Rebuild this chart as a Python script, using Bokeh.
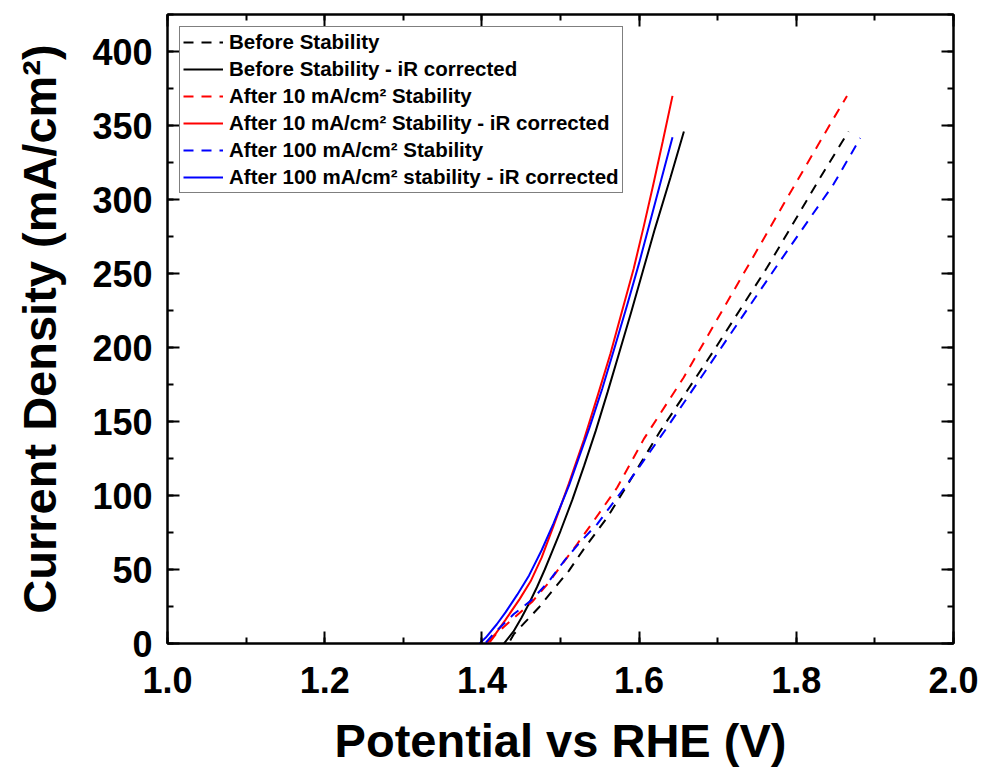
from bokeh.plotting import figure
from bokeh.models import (LinearAxis, Legend, LegendItem, Range1d, SingleIntervalTicker,
                          NumeralTickFormatter, CustomJSTickFormatter)
from bokeh.embed import file_html
from bokeh.resources import INLINE

# ---- data ----
before_v = [1.436, 1.4406, 1.4724, 1.4915, 1.5106, 1.5296, 1.5594, 1.5805, 1.6271, 1.6949, 1.7628, 1.8305, 1.8665]
before_j = [2, 6.3, 24.3, 36.8, 49.1, 63.8, 85.1, 103.2, 143.7, 197.8, 254, 314.9, 346]

before_ir_v = [1.428, 1.440, 1.450, 1.460, 1.470, 1.480, 1.490, 1.500, 1.515, 1.530, 1.545, 1.560, 1.575, 1.590, 1.605, 1.620, 1.640, 1.657]
before_ir_j = [0, 8, 17, 27, 38, 50, 63, 76, 97, 120, 144, 170, 197, 224, 252, 280, 315, 346]

after10_v = [1.410, 1.4186, 1.4406, 1.464, 1.4851, 1.5021, 1.5212, 1.5424, 1.5721, 1.6059, 1.6567, 1.7203, 1.7839, 1.8432, 1.8645]
after10_j = [1, 6.8, 17.2, 28.2, 41.2, 53.6, 67.2, 82.9, 105.4, 138.1, 179.7, 238.3, 296.9, 351, 370]

after10_ir_v = [1.407, 1.418, 1.430, 1.448, 1.462, 1.476, 1.4915, 1.5106, 1.530, 1.547, 1.5636, 1.578, 1.593, 1.606, 1.618, 1.630, 1.6425]
after10_ir_j = [0.5, 7, 16, 30, 42, 58, 80, 108, 138, 167, 196, 224, 253, 282, 310, 339, 370]

after100_v = [1.405, 1.4152, 1.4406, 1.4631, 1.4864, 1.5055, 1.5245, 1.5467, 1.5848, 1.6357, 1.7076, 1.7797, 1.8475, 1.8814]
after100_j = [0.5, 6.8, 19.9, 29.3, 42.8, 56.4, 68.2, 80.7, 107.7, 146, 202.3, 258.6, 310.4, 341.5]

after100_ir_v = [1.397, 1.405, 1.419, 1.430, 1.445, 1.460, 1.476, 1.491, 1.511, 1.537, 1.553, 1.570, 1.585, 1.600, 1.614, 1.628, 1.6425]
after100_ir_j = [0, 4, 13, 21, 33, 46, 63, 81, 107, 146, 172, 202, 229, 257, 285, 313, 342]

labels = [
    "Before Stability",
    "Before Stability - iR corrected",
    "After 10 mA/cm\u00b2 Stability",
    "After 10 mA/cm\u00b2 Stability - iR corrected",
    "After 100 mA/cm\u00b2 Stability",
    "After 100 mA/cm\u00b2 stability - iR corrected",
]

FONT = "Liberation Sans"

p = figure(width=986, height=771, x_range=Range1d(1.0, 2.0), y_range=Range1d(0, 425),
           output_backend="svg", toolbar_location=None,
           min_border_left=167, min_border_right=33, min_border_top=14, min_border_bottom=128,
           x_axis_label="Potential vs RHE (V)", y_axis_label="Current Density (mA/cm\u00b2)")

p.xgrid.visible = False
p.ygrid.visible = False
p.outline_line_color = "black"
p.outline_line_width = 2
p.background_fill_color = "white"
p.border_fill_color = "white"

series = [
    (before_v, before_j, "black", "dashed"),
    (before_ir_v, before_ir_j, "black", "solid"),
    (after10_v, after10_j, "red", "dashed"),
    (after10_ir_v, after10_ir_j, "red", "solid"),
    (after100_v, after100_j, "blue", "dashed"),
    (after100_ir_v, after100_ir_j, "blue", "solid"),
]
renderers = []
for (xs, ys, col, style) in series:
    dash = "10 8" if style == "dashed" else "solid"
    r = p.line(xs, ys, line_color=col, line_width=2, line_dash=dash)
    renderers.append(r)

def style_axis(ax, show_labels):
    ax.axis_line_width = 2
    ax.axis_line_color = "black"
    ax.major_tick_line_width = 2
    ax.minor_tick_line_width = 2
    ax.major_tick_in = 12
    ax.major_tick_out = 0
    ax.minor_tick_in = 6
    ax.minor_tick_out = 0
    ax.major_label_text_font = FONT
    ax.major_label_text_font_style = "bold"
    ax.major_label_text_color = "black"
    ax.major_label_text_font_size = "36px"
    if not show_labels:
        ax.formatter = CustomJSTickFormatter(code="return '';")
        ax.major_label_standoff = 0

p.xaxis.ticker = SingleIntervalTicker(interval=0.2, num_minor_ticks=2)
p.yaxis.ticker = SingleIntervalTicker(interval=50, num_minor_ticks=2)
p.xaxis.formatter = NumeralTickFormatter(format="0.0")
for ax in p.xaxis:
    style_axis(ax, True)
    ax.major_label_standoff = 23
    ax.axis_label_standoff = 18
for ax in p.yaxis:
    style_axis(ax, True)
    ax.major_label_standoff = 15
    ax.axis_label_standoff = 23

for ax in list(p.xaxis) + list(p.yaxis):
    ax.axis_label_text_font = FONT
    ax.axis_label_text_font_style = "bold"
    ax.axis_label_text_font_size = "47px"
    ax.axis_label_text_color = "black"

top_ax = LinearAxis(ticker=SingleIntervalTicker(interval=0.2, num_minor_ticks=2))
style_axis(top_ax, False)
p.add_layout(top_ax, "above")
right_ax = LinearAxis(ticker=SingleIntervalTicker(interval=50, num_minor_ticks=2))
style_axis(right_ax, False)
p.add_layout(right_ax, "right")

legend = Legend(items=[LegendItem(label=l, renderers=[r]) for l, r in zip(labels, renderers)])
legend.location = "top_left"
legend.margin = 12
legend.padding = 3
legend.spacing = 3
legend.glyph_width = 40
legend.glyph_height = 20
legend.label_height = 20
legend.label_standoff = 6
legend.label_text_font = FONT
legend.label_text_font_style = "bold"
legend.label_text_font_size = "20.5px"
legend.label_text_color = "black"
legend.border_line_color = "black"
legend.border_line_width = 1
legend.background_fill_alpha = 1
p.add_layout(legend)

open("out.html", "w").write(file_html(p, INLINE))
